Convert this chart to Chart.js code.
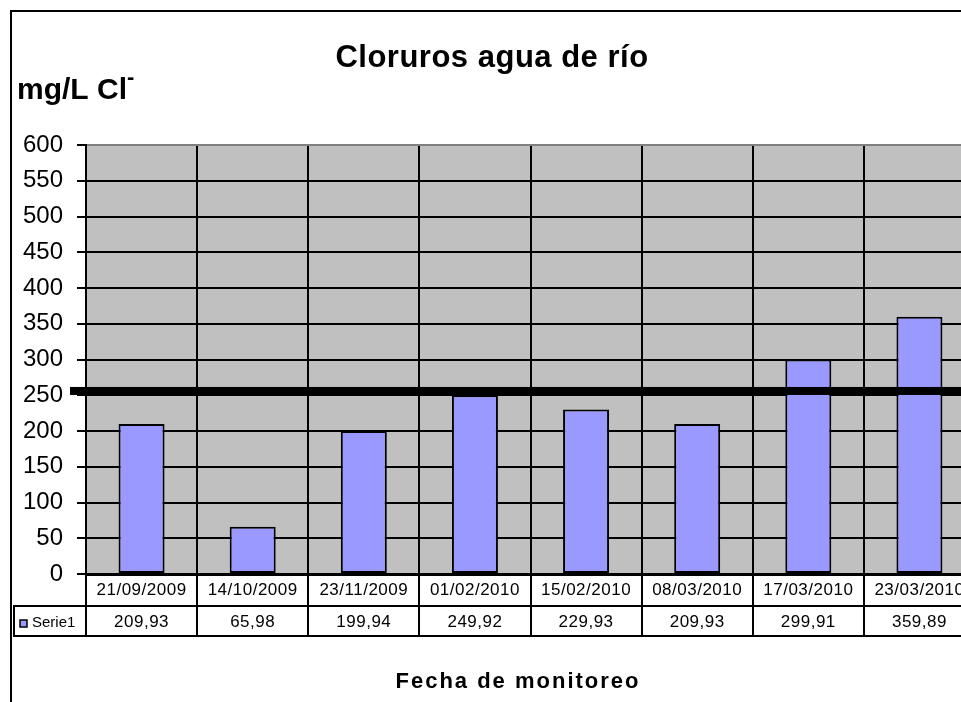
<!DOCTYPE html>
<html>
<head>
<meta charset="utf-8">
<script src="https://cdn.jsdelivr.net/npm/chart.js@4"></script>
<style>
  html, body { margin: 0; padding: 0; background: #fff; overflow: hidden; }
  #grafico { display: block; }
</style>
</head>
<body>
<canvas id="grafico" width="980" height="710"></canvas>
<script>
var fechas = ['21/09/2009', '14/10/2009', '23/11/2009', '01/02/2010', '15/02/2010', '08/03/2010', '17/03/2010', '23/03/2010'];
var cloruros = [209.93, 65.98, 199.94, 249.92, 229.93, 209.93, 299.91, 359.89];
var nombreSerie = 'Serie1';
var yMin = 0;
var yMax = 600;
var yPaso = 50;
var limite = 256;

var fuente = "'Liberation Sans', Arial, sans-serif";

function formatoValor(v) {
  return v.toFixed(2).replace('.', ',');
}

// fondo blanco + area gris
var fondoPlugin = {
  id: 'fondo',
  beforeDraw: function (chart) {
    var ctx = chart.ctx;
    var a = chart.chartArea;
    ctx.save();
    ctx.fillStyle = '#ffffff';
    ctx.fillRect(0, 0, chart.width, chart.height);
    ctx.fillStyle = '#c0c0c0';
    ctx.fillRect(a.left, a.top, a.right - a.left, a.bottom - a.top);
    ctx.restore();
  }
};

// linea gruesa del limite
var limitePlugin = {
  id: 'limite',
  afterDatasetsDraw: function (chart) {
    var ctx = chart.ctx;
    var y = chart.scales.y.getPixelForValue(limite);
    ctx.save();
    ctx.fillStyle = '#000';
    ctx.fillRect(70, y - 4, chart.width, 8);
    ctx.restore();
  }
};

// titulos, tabla de datos y borde
var tablaPlugin = {
  id: 'tabla',
  afterDraw: function (chart) {
    var ctx = chart.ctx;
    var x = chart.scales.x;
    var a = chart.chartArea;
    var n = fechas.length;
    var ancho = (x.right - x.left) / n;
    var fila1 = a.bottom + 1;
    var fila2 = 606;
    var fin = 636;

    ctx.save();
    ctx.strokeStyle = '#000';
    ctx.lineWidth = 2;

    // lineas horizontales
    ctx.beginPath();
    ctx.moveTo(a.left, fila1);
    ctx.lineTo(chart.width, fila1);
    ctx.moveTo(13, fila2);
    ctx.lineTo(chart.width, fila2);
    ctx.moveTo(13, fin);
    ctx.lineTo(chart.width, fin);
    ctx.moveTo(14, fila2);
    ctx.lineTo(14, fin);
    // lineas verticales en los limites de cada categoria
    for (var i = 0; i <= n; i++) {
      var xl = Math.round(x.getPixelForValue(0) - ancho / 2 + i * ancho);
      ctx.moveTo(xl, fila1);
      ctx.lineTo(xl, fin);
    }
    ctx.stroke();

    // textos
    ctx.fillStyle = '#000';
    ctx.textAlign = 'center';
    ctx.textBaseline = 'middle';
    ctx.font = '17px ' + fuente;
    ctx.letterSpacing = '0.5px';
    for (var j = 0; j < n; j++) {
      var cx = x.getPixelForValue(j);
      ctx.fillText(fechas[j], cx, 590);
      ctx.fillText(formatoValor(cloruros[j]), cx, 622);
    }
    ctx.letterSpacing = '0px';

    // leyenda de la serie
    ctx.fillStyle = '#9999ff';
    ctx.fillRect(20, 620, 7, 7);
    ctx.lineWidth = 1.5;
    ctx.strokeRect(20, 620, 7, 7);
    ctx.fillStyle = '#000';
    ctx.textAlign = 'left';
    ctx.font = '15px ' + fuente;
    ctx.fillText(nombreSerie, 32, 623);

    // titulo
    ctx.textAlign = 'center';
    ctx.textBaseline = 'alphabetic';
    ctx.font = 'bold 31px ' + fuente;
    ctx.letterSpacing = '0.5px';
    ctx.fillText('Cloruros agua de río', 492, 67);

    // titulo eje y (Cl con superindice)
    ctx.textAlign = 'left';
    ctx.font = 'bold 30px ' + fuente;
    ctx.letterSpacing = '0px';
    ctx.fillText('mg/L Cl', 17, 99);
    var finTexto = 17 + ctx.measureText('mg/L Cl').width;
    ctx.font = 'bold 22px ' + fuente;
    ctx.fillText('-', finTexto, 84);

    // titulo eje x
    ctx.textAlign = 'center';
    ctx.font = 'bold 22px ' + fuente;
    ctx.letterSpacing = '2px';
    ctx.fillText('Fecha de monitoreo', 518, 688);
    ctx.letterSpacing = '0px';

    // borde exterior
    ctx.lineWidth = 2;
    ctx.strokeRect(11, 11, chart.width + 20, chart.height + 20);
    ctx.restore();
  }
};

var ctx = document.getElementById('grafico').getContext('2d');

var grafico = new Chart(ctx, {
  type: 'bar',
  data: {
    labels: fechas,
    datasets: [{
      label: nombreSerie,
      data: cloruros,
      backgroundColor: '#9999ff',
      borderColor: '#000',
      borderWidth: 2,
      borderSkipped: false,
      categoryPercentage: 1,
      barPercentage: 0.414
    }]
  },
  options: {
    responsive: false,
    animation: false,
    devicePixelRatio: 1,
    layout: {
      padding: { left: 0, top: 145, right: 5, bottom: 136 }
    },
    plugins: {
      legend: { display: false },
      title: { display: false },
      tooltip: { enabled: false }
    },
    scales: {
      x: {
        offset: true,
        ticks: { display: false },
        grid: {
          offset: true,
          color: '#000',
          lineWidth: 2,
          drawTicks: false
        },
        border: { display: true, color: '#000', width: 2 },
        afterFit: function (s) { s.height = 0; }
      },
      y: {
        min: yMin,
        max: yMax,
        ticks: {
          stepSize: yPaso,
          color: '#000',
          padding: 14,
          font: { family: fuente, size: 24 }
        },
        grid: {
          color: function (c) { return c.tick && c.tick.value === yMax ? '#808080' : '#000'; },
          lineWidth: 2,
          tickLength: 9,
          tickColor: '#000'
        },
        border: { display: true, color: '#000', width: 2 },
        afterFit: function (s) { s.width = 86; }
      }
    }
  },
  plugins: [fondoPlugin, limitePlugin, tablaPlugin]
});
</script>
</body>
</html>
